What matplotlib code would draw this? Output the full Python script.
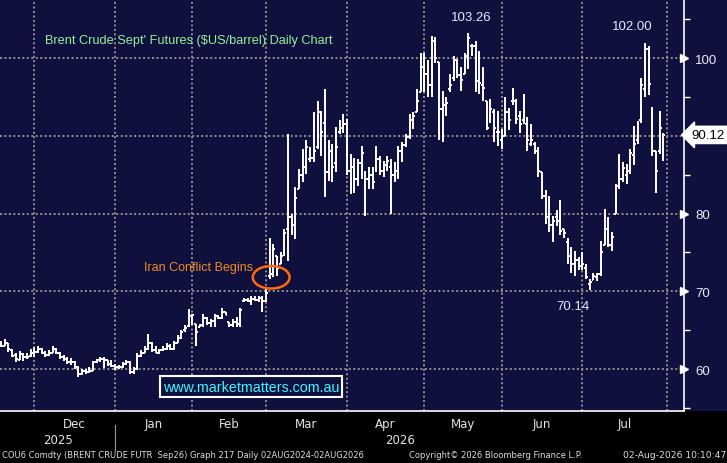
import pandas as pd
import matplotlib
matplotlib.use("Agg")
import matplotlib.pyplot as plt
from matplotlib.patches import Rectangle, Ellipse

# trading days shown on the chart (ICE holidays dropped)
dates = pd.bdate_range("2025-11-18", "2026-07-31")
dates = dates.drop(pd.to_datetime(["2025-12-25", "2026-01-01", "2026-04-03"]))

# daily OHLC ($US/barrel)
opens = [63.2, 63.0, 63.3, 62.5, 61.8, 61.2, 61.9, 61.5, 61.7,
         62.0, 62.2, 62.6, 62.1, 61.8, 62.1, 62.6, 62.1, 61.5, 61.3, 60.9,
         60.9, 60.2, 59.3, 59.8, 59.6, 59.8, 60.9, 61.1, 61.3, 61.1, 60.6,
         60.4, 60.2, 60.2, 60.6, 60.9, 59.6, 60.0, 61.7, 62.1, 62.6, 63.4,
         62.4, 62.1, 62.4, 62.6, 63.0, 62.6, 63.4, 64.0, 65.0, 65.5,
         66.8, 65.8, 65.4, 65.6, 66.5, 65.9, 66.2, 66.8, 66.6, 67.3, 66.0,
         65.6, 66.0, 65.8, 68.8, 68.9, 68.8, 69.0, 68.9, 69.1,
         68.8, 72.0, 72.2, 74.5, 73.5, 75.0, 78.0, 79.5, 78.0, 83.2, 85.0,
         86.0, 87.0, 87.2, 88.5, 93.0, 91.7, 85.3, 88.0, 86.5, 90.5, 91.0,
         91.5, 85.5, 86.0, 84.5, 86.5, 84.0, 84.5, 85.0, 86.0, 87.0, 85.5,
         86.2, 86.0, 85.0, 85.5, 88.0, 88.8, 89.8, 92.0, 93.0, 95.6,
         98.8, 97.9, 96.5, 102.2, 99.5, 93.5, 94.0, 96.0, 97.5, 99.5, 97.8,
         98.0, 100.5, 101.5, 101.5, 97.0, 96.5, 94.5, 92.5, 93.0, 90.5,
         89.5, 90.0, 93.0, 94.5, 94.5, 92.5, 92.0, 91.5, 89.0, 89.0, 88.0,
         85.3, 82.3, 79.5, 78.5, 79.5, 78.5, 78.0, 76.3, 75.0, 73.5, 74.0,
         73.0, 73.0, 71.0, 71.5, 71.8, 72.2, 76.0, 78.0, 76.0, 80.0, 83.5,
         84.5, 85.0, 85.5, 87.5, 89.5, 92.0, 96.0, 101.2, 93.5, 88.0, 88.0,
         89.0]
highs = [63.6, 63.8, 63.4, 62.6, 62.0, 62.3, 62.0, 62.0, 62.6,
         62.8, 62.9, 62.7, 62.3, 62.5, 63.0, 62.7, 62.2, 61.8, 61.5, 61.4,
         61.0, 60.4, 60.0, 60.0, 60.2, 61.0, 61.3, 61.5, 61.6, 61.2, 61.2,
         60.6, 60.5, 60.9, 61.1, 61.0, 60.3, 62.0, 62.4, 63.0, 64.5, 63.5,
         63.0, 62.6, 62.9, 63.3, 63.2, 63.6, 64.4, 65.0, 65.6, 67.7,
         67.1, 65.8, 65.8, 67.1, 66.7, 66.4, 67.1, 66.9, 67.9, 67.3, 66.0,
         66.4, 66.7, 67.9, 69.2, 69.2, 69.4, 69.4, 69.4, 69.4,
         70.3, 76.8, 76.1, 74.6, 75.0, 78.0, 90.2, 79.9, 83.4, 85.7, 88.3,
         89.4, 88.5, 93.0, 94.5, 93.2, 96.0, 89.4, 88.9, 91.1, 92.0, 92.8,
         92.2, 87.7, 87.2, 87.0, 88.7, 85.5, 86.0, 86.0, 88.7, 87.4, 86.8,
         87.4, 87.0, 86.6, 88.7, 89.2, 90.2, 92.8, 93.0, 96.0, 100.7,
         100.7, 99.7, 102.9, 102.7, 99.5, 95.8, 95.0, 98.0, 100.3, 99.9, 98.8,
         100.6, 103.26, 101.8, 102.2, 100.9, 98.8, 94.5, 94.7, 93.4, 93.2,
         90.9, 95.0, 93.6, 96.2, 94.7, 93.2, 95.4, 92.4, 91.5, 89.2, 88.5,
         85.3, 83.0, 82.3, 79.7, 80.4, 81.7, 78.0, 76.9, 75.7, 75.2, 74.4,
         75.0, 73.5, 71.6, 72.4, 72.4, 76.5, 80.6, 79.5, 77.6, 83.8, 87.7,
         86.6, 86.4, 88.3, 91.3, 91.9, 97.5, 102.0, 101.5, 93.7, 88.1, 93.2,
         90.4]
lows = [62.8, 62.9, 62.2, 61.5, 60.9, 61.1, 61.0, 61.3, 61.5,
        61.6, 62.0, 61.9, 61.5, 61.7, 62.0, 61.9, 61.3, 61.0, 60.6, 60.5,
        60.0, 59.0, 59.2, 59.3, 59.5, 59.7, 60.8, 60.9, 60.1, 60.4, 60.3,
        59.9, 60.0, 60.1, 60.5, 59.3, 59.4, 59.9, 61.5, 62.0, 62.4, 62.2,
        62.0, 61.9, 62.3, 62.4, 62.4, 62.5, 63.3, 63.9, 64.7, 65.4,
        65.6, 63.0, 65.4, 65.4, 65.6, 65.4, 65.4, 66.4, 66.4, 66.9, 65.4,
        65.4, 65.4, 65.4, 68.6, 68.6, 68.2, 68.8, 68.6, 67.3,
        68.6, 71.6, 71.8, 72.0, 73.5, 74.6, 73.9, 77.2, 76.7, 83.2, 84.0,
        85.1, 86.6, 86.6, 88.3, 87.4, 82.1, 84.2, 84.0, 85.3, 90.2, 90.4,
        84.9, 82.5, 82.7, 83.6, 84.4, 79.7, 83.2, 83.2, 85.3, 84.9, 84.7,
        85.5, 79.9, 84.0, 84.4, 86.6, 88.5, 89.6, 90.9, 93.0, 95.6,
        95.6, 95.0, 95.0, 99.4, 89.4, 89.2, 92.6, 95.6, 97.1, 97.5, 95.8,
        97.9, 98.6, 100.3, 95.6, 95.4, 94.5, 90.7, 91.7, 89.2, 88.7,
        88.3, 90.0, 90.7, 93.9, 91.5, 90.4, 91.5, 88.1, 88.7, 87.7, 84.7,
        81.9, 78.7, 77.6, 76.3, 78.4, 77.2, 76.9, 73.5, 72.4, 72.0, 72.7,
        72.7, 71.6, 70.14, 71.4, 71.3, 72.0, 75.9, 75.7, 75.2, 79.95, 83.2,
        84.0, 83.8, 85.1, 86.2, 88.9, 91.7, 95.0, 95.2, 87.4, 82.7, 87.7,
        86.8]
closes = [63.0, 63.4, 62.6, 61.7, 61.3, 61.9, 61.5, 61.6, 62.1,
          62.2, 62.6, 62.1, 61.8, 62.1, 62.6, 62.1, 61.5, 61.3, 60.9, 60.9,
          60.2, 59.3, 59.8, 59.6, 59.8, 60.9, 61.1, 61.3, 61.1, 60.6, 60.4,
          60.2, 60.2, 60.6, 60.9, 59.6, 60.0, 61.7, 62.1, 62.6, 63.4, 62.4,
          62.1, 62.4, 62.6, 63.0, 62.6, 63.4, 64.0, 64.8, 65.3, 66.8,
          66.9, 64.8, 65.6, 66.5, 65.9, 66.2, 66.8, 66.6, 67.3, 67.0, 65.6,
          66.0, 65.8, 67.6, 68.9, 68.8, 69.0, 68.9, 69.1, 68.8,
          69.8, 72.2, 75.5, 73.0, 74.5, 77.5, 79.5, 78.5, 82.0, 85.0, 86.0,
          88.5, 87.2, 88.0, 93.0, 90.5, 85.3, 88.0, 86.0, 88.5, 91.5, 91.5,
          85.5, 86.0, 84.5, 86.5, 87.8, 84.5, 85.0, 84.0, 87.0, 85.5, 86.2,
          86.8, 85.0, 85.5, 88.0, 88.8, 89.8, 92.0, 92.6, 94.5, 99.0,
          97.9, 96.5, 102.2, 100.0, 93.5, 92.8, 94.2, 96.5, 99.8, 97.8, 97.2,
          100.3, 102.6, 101.5, 97.0, 96.8, 96.2, 91.0, 93.5, 91.0, 90.5,
          89.0, 93.0, 92.0, 95.5, 92.2, 91.5, 92.2, 89.5, 89.5, 88.5, 85.5,
          82.2, 82.0, 78.5, 79.0, 79.0, 77.8, 77.5, 74.5, 73.5, 74.0, 73.2,
          73.5, 71.8, 71.2, 72.0, 72.2, 75.0, 79.0, 76.0, 77.0, 83.5, 84.5,
          85.8, 84.5, 87.8, 89.0, 91.5, 96.5, 101.2, 96.7, 88.0, 85.5, 91.0,
          90.12]

price_ticks = [60, 70, 80, 90, 100]
minor_ticks = [55, 65, 75, 85, 95, 105]
peak_labels = [("103.26", 127.7, 105.3), ("102.00", 171.5, 104.1), ("70.14", 155.5, 68.1)]

assert len(dates) == len(opens) == len(highs) == len(lows) == len(closes)

NAVY = "#10103f"
W, H = 727, 464

fig = plt.figure(figsize=(W / 100, H / 100), dpi=100, facecolor="black")
fig.patches.append(Rectangle((0, 52 / H), 1, 412 / H, transform=fig.transFigure,
                             facecolor=NAVY, edgecolor="none", zorder=-1))
ax = fig.add_axes([0, 52 / H, 684 / W, 412 / H], facecolor=NAVY)

x = list(range(len(dates)))
bar_kw = dict(color="white", lw=1.4, zorder=3)
ax.vlines(x, lows, highs, **bar_kw)
ax.hlines(opens, [i - 0.5 for i in x], x, **bar_kw)
ax.hlines(closes, x, [i + 0.5 for i in x], **bar_kw)

ax.set_xlim(-0.3, 185.6)
ax.set_ylim(54.6, 107.6)

# month boundaries
months = dates.to_period("M")
starts = [i for i in range(len(dates)) if i == 0 or months[i] != months[i - 1]][1:]
bounds = starts + [len(dates)]
mids = [(a + b) / 2 for a, b in zip(bounds[:-1], bounds[1:])]
mnames = [dates[s].strftime("%b") for s in starts]

grid_kw = dict(color="#909090", lw=1.4, linestyle=(0, (1, 1.3)), zorder=1)
for s in bounds:
    ax.axvline(s, **grid_kw)
for p in price_ticks:
    ax.axhline(p, **grid_kw)

for side in ["left", "top"]:
    ax.spines[side].set_visible(False)
for side in ["right", "bottom"]:
    ax.spines[side].set_color("white")
    ax.spines[side].set_linewidth(1.2)

# right axis: the last price box takes the place of the 90 label
last = closes[-1]
shown = [p for p in price_ticks if abs(p - last) > 2]
ax.yaxis.tick_right()
ax.set_yticks(shown)
ax.set_yticklabels([str(p) for p in shown], family="Liberation Sans")
ax.set_yticks(minor_ticks, minor=True)
ax.tick_params(axis="y", which="major", length=0, pad=8, labelsize=9.5, labelcolor="#e8e8f8")
ax.tick_params(axis="y", which="minor", length=4, width=1, color="white", direction="out")
ax.plot([1.0] * len(shown), shown, ls="none", marker=">", ms=5.5, color="white",
        transform=ax.get_yaxis_transform(), clip_on=False)

ax.set_xticks(bounds)
ax.set_xticklabels([])
ax.set_xticks(mids, minor=True)
ax.set_xticklabels(mnames, minor=True, family="DejaVu Sans")
ax.tick_params(axis="x", which="both", length=0)
ax.tick_params(axis="x", which="minor", pad=4, labelsize=8.5, labelcolor="#e4e4e4")

# year labels under the months
xt = ax.get_xaxis_transform()
y2026 = starts[1]
ax.text((ax.get_xlim()[0] + y2026) / 2, -0.068, "2025", transform=xt, ha="center", va="center",
        color="#e4e4e4", fontsize=8.5, family="DejaVu Sans")
ax.text((y2026 + ax.get_xlim()[1]) / 2, -0.068, "2026", transform=xt, ha="center", va="center",
        color="#e4e4e4", fontsize=8.5, family="DejaVu Sans")
ax.plot([y2026, y2026], [-0.035, -0.095], transform=xt, color="#9a9a9a", lw=0.8, clip_on=False)

# annotations
ax.text(0.066, 0.9, "Brent Crude Sept' Futures ($US/barrel) Daily Chart", transform=ax.transAxes,
        color="#96f096", fontsize=9.2, family="Liberation Sans", va="center")
for txt, px, py in peak_labels:
    ax.text(px, py, txt, color="#e2e8ff", fontsize=9.5, family="Liberation Sans",
            ha="center", va="center")
ax.text(38.9, 73.1, "Iran Conflict Begins", color="#f08a1e", fontsize=9,
        family="Liberation Sans", va="center")
ax.add_patch(Ellipse((73.4, 71.8), 10.0, 2.9, fill=False, edgecolor="#ff6a10", lw=1.8, zorder=4))
ax.text(67.9, 57.75, "www.marketmatters.com.au", color="#3cf6ff", fontsize=10.3,
        family="Liberation Sans", ha="center", va="center", zorder=5,
        bbox=dict(boxstyle="square,pad=0.22", facecolor=NAVY, edgecolor="white", lw=1.5))

ax.annotate(f"{last:.2f}", xy=(1.0, last), xycoords=("axes fraction", "data"),
            xytext=(5, 0), textcoords="offset points", ha="left", va="center",
            color="black", fontsize=9.5, family="Liberation Sans", annotation_clip=False,
            bbox=dict(boxstyle="larrow,pad=0.2", facecolor="white", edgecolor="white"))

# footer
foot_kw = dict(color="#dcdcdc", family="DejaVu Sans", va="center")
fy = 1 - 456 / H
fig.text(2 / W, fy, "COU6 Comdty (BRENT CRUDE FUTR  Sep26) Graph 217 Daily 02AUG2024-02AUG2026",
         fontsize=6.0, **foot_kw)
fig.text(409 / W, fy, "Copyright\u00a9 2026 Bloomberg Finance L.P.", fontsize=6.0, **foot_kw)
fig.text(726 / W, fy, "02-Aug-2026 10:10:47", ha="right", fontsize=6.6, **foot_kw)

fig.savefig("out.png", dpi=100, facecolor=fig.get_facecolor())
